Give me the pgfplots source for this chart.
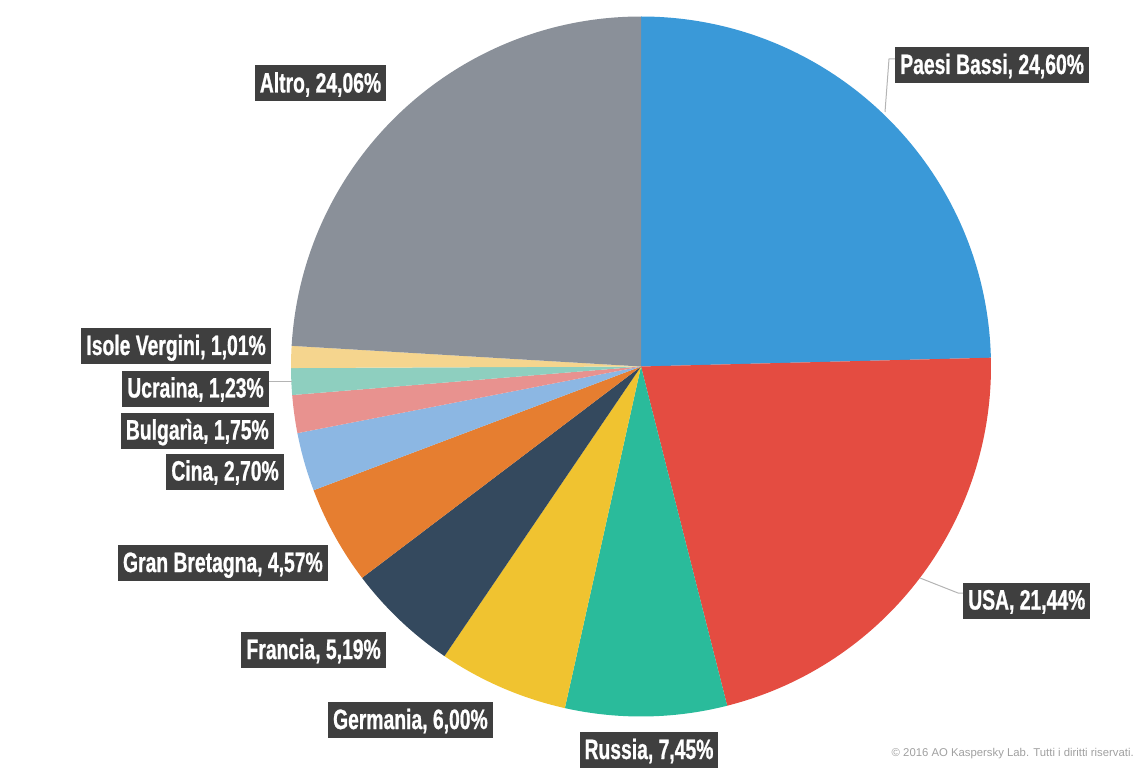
\documentclass[border=0pt]{standalone}
\usepackage{pgfplots}
\usepackage{pgfplotstable}
\pgfplotsset{compat=1.18}
\usepackage{fontspec}
\setmainfont{Liberation Sans}
\newfontfamily\labelfont[FakeStretch=0.69, FakeBold=0.8]{Liberation Sans}
\definecolor{cPB}{HTML}{3A99D8}
\definecolor{cUSA}{HTML}{E44C41}
\definecolor{cRU}{HTML}{2ABB9B}
\definecolor{cDE}{HTML}{F0C330}
\definecolor{cFR}{HTML}{34495E}
\definecolor{cGB}{HTML}{E67E30}
\definecolor{cCN}{HTML}{8CB7E3}
\definecolor{cBG}{HTML}{E8928F}
\definecolor{cUA}{HTML}{8ECFBF}
\definecolor{cVG}{HTML}{F5D58E}
\definecolor{cAL}{HTML}{8A9099}
\definecolor{boxgrey}{HTML}{3F3F3F}
\definecolor{leader}{HTML}{B4B4B4}
\definecolor{copy}{HTML}{A0A0A0}

\pgfplotstableread[col sep=comma]{
name,value,color
Paesi Bassi,24.60,cPB
USA,21.44,cUSA
Russia,7.45,cRU
Germania,6.00,cDE
Francia,5.19,cFR
Gran Bretagna,4.57,cGB
Cina,2.70,cCN
Bulgaria,1.75,cBG
Ucraina,1.23,cUA
Isole Vergini,1.01,cVG
Altro,24.06,cAL
}\piedata

% pie geometry (axis units = pixels of the reference; 1 px = 0.75pt)
\def\cx{641}
\def\cy{402.5}
\def\R{350}
\def\Rpt{262.5pt}

\gdef\piecum{0}
\gdef\pieslices{}
\pgfplotstablegetrowsof{\piedata}
\pgfmathtruncatemacro\lastrow{\pgfplotsretval-1}
\foreach \i in {0,...,\lastrow}{%
  \pgfplotstablegetelem{\i}{value}\of\piedata \let\v\pgfplotsretval
  \pgfplotstablegetelem{\i}{color}\of\piedata \let\c\pgfplotsretval
  \pgfmathsetmacro\a{90-3.6*\piecum}%
  \pgfmathsetmacro\b{90-3.6*(\piecum+\v)}%
  \xdef\pieslices{\unexpanded\expandafter{\pieslices}%
    \noexpand\fill[\c] (axis cs:\cx,\cy) -- (axis cs:{\cx+\R*cos(\a)},{\cy+\R*sin(\a)})
      arc[start angle=\a, end angle=\b, radius=\Rpt] -- cycle;}%
  \pgfmathsetmacro\newcum{\piecum+\v}%
  \xdef\piecum{\newcum}%
}

\tikzset{lbl/.style={fill=boxgrey, text=white, font=\labelfont\bfseries\fontsize{21}{25}\selectfont,
  inner xsep=3.75pt, inner ysep=5.25pt, text height=15pt, text depth=1.5pt}}

\begin{document}
\begin{tikzpicture}
\begin{axis}[scale only axis, width=857.25pt, height=576.75pt,
  xmin=0, xmax=1143, ymin=0, ymax=769, hide axis, clip=false]
\coordinate (BL) at (axis cs:0,0);
\coordinate (TR) at (axis cs:1143,769);
\pieslices
% leader lines
\draw[leader, line width=0.75pt] (axis cs:895,710) -- (axis cs:889,710) -- (axis cs:885,657);
\draw[leader, line width=0.75pt] (axis cs:920,191) -- (axis cs:958,176) -- (axis cs:963,176);
\draw[leader, line width=0.75pt] (axis cs:269,388) -- (axis cs:292,388);
% labels
\node[lbl, anchor=west] at (axis cs:895,704) {Paesi Bassi, 24,60\%};
\node[lbl, anchor=west] at (axis cs:963,168.5) {USA, 21,44\%};
\node[lbl] at (axis cs:649,19) {Russia, 7,45\%};
\node[lbl, anchor=east] at (axis cs:493,49) {Germania, 6,00\%};
\node[lbl, anchor=east] at (axis cs:386,119) {Francia, 5,19\%};
\node[lbl, anchor=east] at (axis cs:328,206) {Gran Bretagna, 4,57\%};
\node[lbl, anchor=east] at (axis cs:284,297.5) {Cina, 2,70\%};
\node[lbl, anchor=east] at (axis cs:274,338.5) {Bulgarìa, 1,75\%};
\node[lbl, anchor=east] at (axis cs:269,380.5) {Ucraina, 1,23\%};
\node[lbl, anchor=east] at (axis cs:271,423) {Isole Vergini, 1,01\%};
\node[lbl] at (axis cs:320.5,685.5) {Altro, 24,06\%};
\node[anchor=east, text=copy, font=\fontsize{8.5}{10}\selectfont, inner sep=0pt] at (axis cs:1134,15) {© 2016 AO Kaspersky Lab. Tutti i diritti riservati.};
\end{axis}
\pgfresetboundingbox
\path[use as bounding box] (BL) rectangle (TR);
\end{tikzpicture}
\end{document}
